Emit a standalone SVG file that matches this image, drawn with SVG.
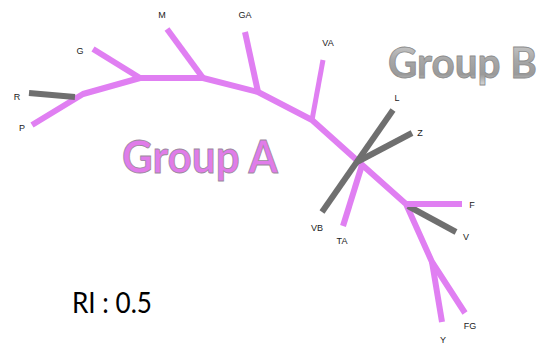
<svg xmlns="http://www.w3.org/2000/svg" width="550" height="344" viewBox="0 0 550 344">
<defs>
<linearGradient id="gb" x1="0" y1="0" x2="0" y2="1">
<stop offset="0" stop-color="#d6d6d6"/>
<stop offset="0.45" stop-color="#a8a8a8"/>
<stop offset="0.75" stop-color="#9a9a9a"/>
<stop offset="1" stop-color="#e4e4e4"/>
</linearGradient>
<style>
.pk{fill:none;stroke:#e07ff2;stroke-width:6;stroke-linejoin:round;stroke-linecap:butt}
.gr{fill:none;stroke:#6f6f6f;stroke-width:6;stroke-linecap:butt}
.lb{font-family:"Liberation Sans",Arial,sans-serif;font-size:9px;fill:#222;text-anchor:middle}
.big{font-family:Lato,"Open Sans",sans-serif;font-weight:bold}
</style>
</defs>
<rect width="550" height="344" fill="#fff"/>
<g id="connectors">
<polyline class="pk" points="32,125 83,94 140,78 203,78 258,92 312,120 360,163 406,204 432,262 465,313"/>
<line class="pk" x1="93" y1="49" x2="140" y2="78"/>
<line class="pk" x1="167" y1="29" x2="203" y2="78"/>
<line class="pk" x1="245" y1="32" x2="258" y2="92"/>
<line class="pk" x1="323" y1="60" x2="312" y2="120" style="stroke-width:5"/>
<line class="pk" x1="432" y1="262" x2="442" y2="322"/>
<line class="gr" x1="29" y1="93" x2="75" y2="97"/>
<line class="gr" x1="393" y1="110" x2="322" y2="212"/>
<line class="gr" x1="412" y1="133" x2="357" y2="162"/>
<line class="pk" x1="362" y1="165" x2="343" y2="226"/>
<line class="gr" x1="408" y1="206" x2="456" y2="232"/>
<line class="pk" x1="407" y1="204" x2="462" y2="204"/>
</g>
<g id="n-G"><text class="lb" x="80" y="54">G</text></g>
<g id="n-M"><text class="lb" x="162" y="18">M</text></g>
<g id="n-GA"><text class="lb" x="245" y="18">GA</text></g>
<g id="n-VA"><text class="lb" x="328" y="46">VA</text></g>
<g id="n-L"><text class="lb" x="397" y="101">L</text></g>
<g id="n-Z"><text class="lb" x="420" y="136">Z</text></g>
<g id="n-R"><text class="lb" x="17" y="100">R</text></g>
<g id="n-P"><text class="lb" x="22" y="131">P</text></g>
<g id="n-VB"><text class="lb" x="317" y="231">VB</text></g>
<g id="n-TA"><text class="lb" x="342" y="244">TA</text></g>
<g id="n-F"><text class="lb" x="472" y="208">F</text></g>
<g id="n-V"><text class="lb" x="466" y="240">V</text></g>
<g id="n-FG"><text class="lb" x="470" y="329">FG</text></g>
<g id="n-Y"><text class="lb" x="443" y="343">Y</text></g>
<g id="groupA"><text class="big" x="122" y="173" font-size="46" textLength="156" lengthAdjust="spacingAndGlyphs" fill="#e07ce9" stroke="#9a8a9c" stroke-width="0.8">Group A</text></g>
<g id="groupB"><text class="big" x="388" y="78" font-size="42" textLength="149" lengthAdjust="spacingAndGlyphs" fill="url(#gb)" stroke="#8c8c8c" stroke-width="0.8">Group B</text></g>
<g id="ri"><text x="72" y="313" font-family="Lato,'Open Sans',sans-serif" font-size="28" fill="#000" textLength="80" lengthAdjust="spacingAndGlyphs">RI : 0.5</text></g>
</svg>
